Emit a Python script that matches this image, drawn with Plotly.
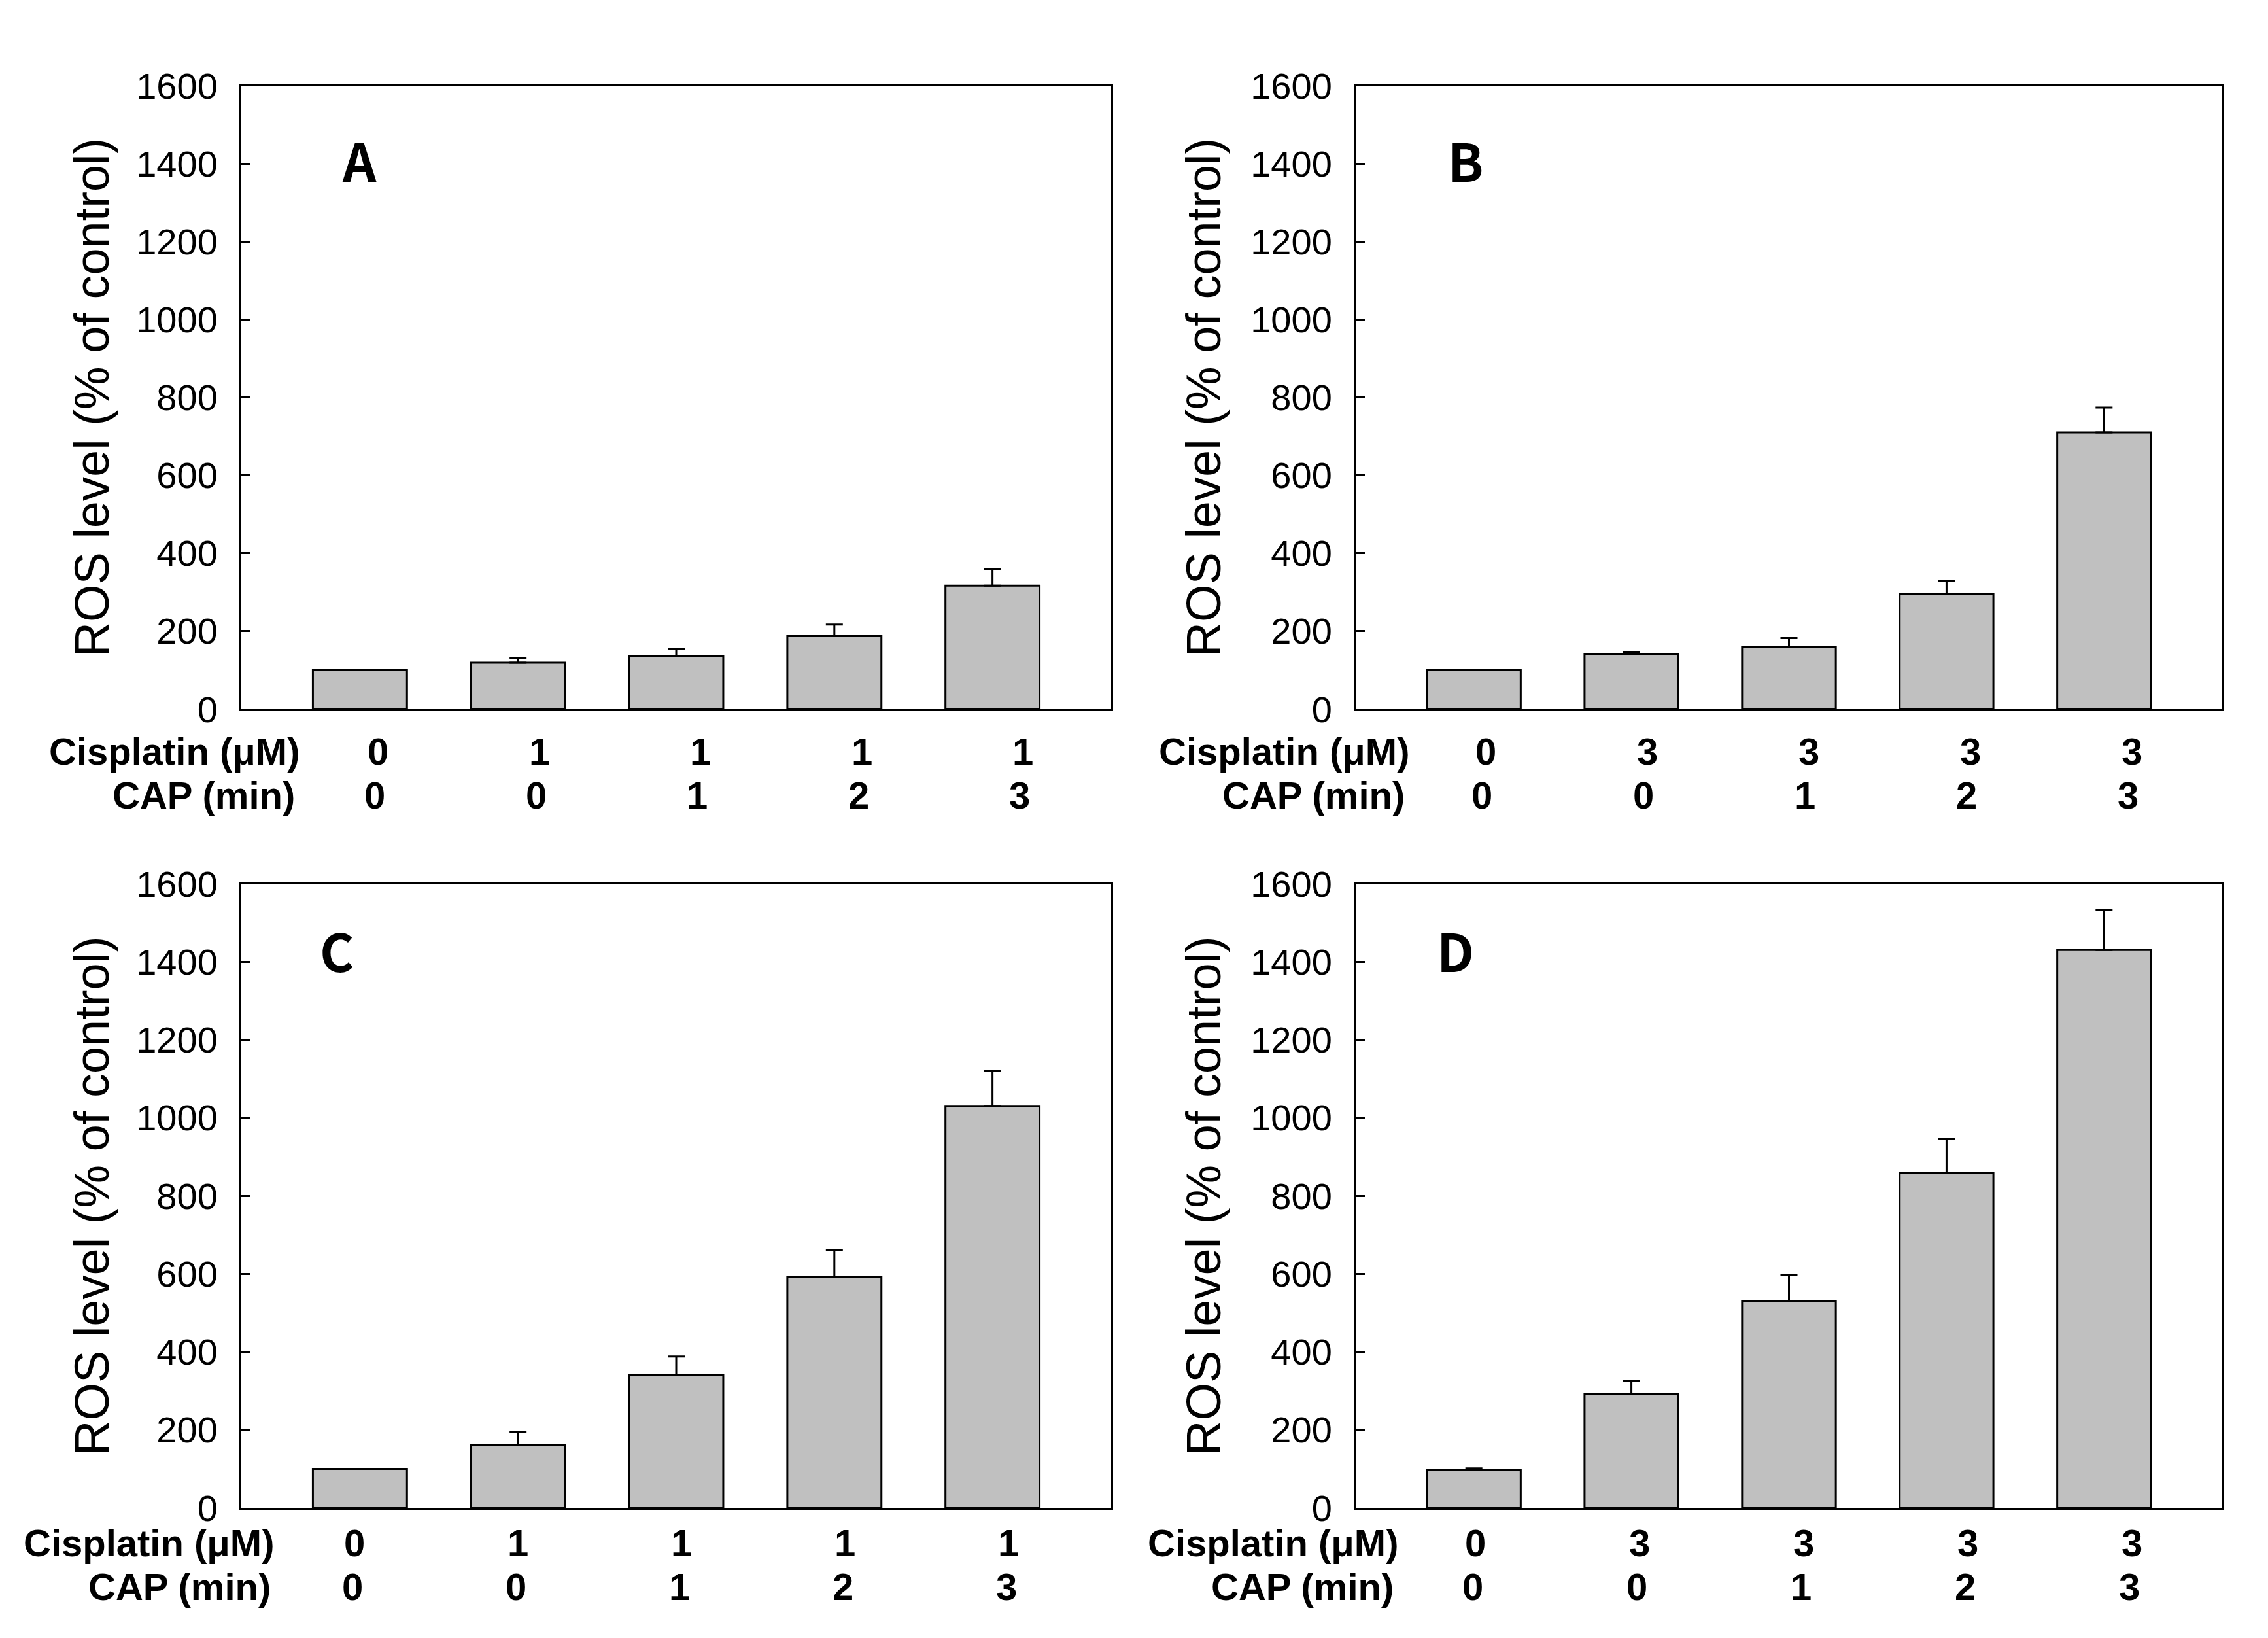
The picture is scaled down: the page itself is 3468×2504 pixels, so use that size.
import plotly.graph_objects as go

# ---------------- data ----------------
panel_letters = ["A", "B", "C", "D"]
cisplatin_A = ["0", "1", "1", "1", "1"]
cisplatin_B = ["0", "3", "3", "3", "3"]
cisplatin_C = ["0", "1", "1", "1", "1"]
cisplatin_D = ["0", "3", "3", "3", "3"]
cap_min = ["0", "0", "1", "2", "3"]

ros_A = [100, 119, 136, 187, 317]
err_A = [0, 12, 18, 30, 43]
ros_B = [100, 142, 159, 295, 710]
err_B = [0, 5, 23, 35, 64]
ros_C = [100, 160, 340, 592, 1030]
err_C = [0, 35, 48, 68, 91]
ros_D = [97, 291, 529, 859, 1430]
err_D = [4, 34, 68, 87, 102]

y_ticks = [0, 200, 400, 600, 800, 1000, 1200, 1400, 1600]
y_title = "ROS level (% of control)"
row_label_cis = "Cisplatin (\u03bcM)"
row_label_cap = "CAP (min)"

# ---------------- layout (pixel geometry) ----------------
W, H = 3468, 2504
def px(x):
    return x / W
def py(y):
    return 1 - y / H

panels = [
    dict(letter=panel_letters[0], cis=cisplatin_A, ros=ros_A, err=err_A,
         x0=369, x1=1699, y0=131, y1=1084, tx=140, lx=549, ly=243,
         cis_r=460, cap_r=453, row1=1148, row2=1215, vc=578, vp=573, sp=246.5),
    dict(letter=panel_letters[1], cis=cisplatin_B, ros=ros_B, err=err_B,
         x0=2073, x1=3398, y0=131, y1=1084, tx=1840, lx=2241, ly=243,
         cis_r=2157, cap_r=2150, row1=1148, row2=1215, vc=2272, vp=2266, sp=247),
    dict(letter=panel_letters[2], cis=cisplatin_C, ros=ros_C, err=err_C,
         x0=369, x1=1699, y0=1351, y1=2305, tx=140, lx=515, ly=1451,
         cis_r=421, cap_r=416, row1=2358, row2=2425, vc=542, vp=539, sp=250),
    dict(letter=panel_letters[3], cis=cisplatin_D, ros=ros_D, err=err_D,
         x0=2073, x1=3398, y0=1351, y1=2305, tx=1840, lx=2225, ly=1451,
         cis_r=2140, cap_r=2133, row1=2358, row2=2425, vc=2256, vp=2252, sp=251),
]

FONT = "Liberation Sans, Arial, sans-serif"
fig = go.Figure()
annotations = []
layout_axes = {}

for k, p in enumerate(panels):
    n = "" if k == 0 else str(k + 1)
    cats = [f"{c}|{m}" for c, m in zip(p["cis"], cap_min)]
    fig.add_trace(go.Bar(
        x=cats, y=p["ros"],
        xaxis="x" + n, yaxis="y" + n,
        marker=dict(color="#c0c0c0", line=dict(color="black", width=3)),
        error_y=dict(type="data", symmetric=False, array=p["err"],
                     arrayminus=[0] * len(p["err"]),
                     color="black", thickness=3, width=13),
        showlegend=False,
    ))
    layout_axes["xaxis" + n] = dict(
        domain=[px(p["x0"]), px(p["x1"])], anchor="y" + n,
        type="category", range=[-0.75, 4.75],
        showticklabels=False, ticks="", showgrid=False, zeroline=False,
        showline=True, mirror=True, linecolor="black", linewidth=3,
        automargin=False,
    )
    layout_axes["yaxis" + n] = dict(
        domain=[py(p["y1"]), py(p["y0"])], anchor="x" + n,
        range=[0, 1600], tickvals=y_ticks, ticks="inside", ticklen=14,
        tickwidth=3, tickcolor="black", showgrid=False, zeroline=False,
        showline=True, mirror=True, linecolor="black", linewidth=3,
        tickfont=dict(family=FONT, size=56, color="black"),
        ticklabelstandoff=22, automargin=False,
    )
    yc = (p["y0"] + p["y1"]) / 2
    annotations.append(dict(
        text=y_title, xref="paper", yref="paper", x=px(p["tx"]), y=py(yc),
        textangle=-90, showarrow=False, xanchor="center", yanchor="middle",
        font=dict(family=FONT, size=74, color="black"),
    ))
    annotations.append(dict(
        text="<b>" + p["letter"] + "</b>", xref="paper", yref="paper",
        x=px(p["lx"]), y=py(p["ly"]), showarrow=False,
        xanchor="center", yanchor="middle",
        font=dict(family="Noto Sans CJK KR, Noto Sans, sans-serif", size=80, color="black"),
    ))
    for label, right, row in ((row_label_cis, p["cis_r"], p["row1"]),
                              (row_label_cap, p["cap_r"], p["row2"])):
        annotations.append(dict(
            text="<b>" + label + "</b>", xref="paper", yref="paper",
            x=px(right), y=py(row), showarrow=False,
            xanchor="right", yanchor="middle",
            font=dict(family=FONT, size=58, color="black"),
        ))
    for i in range(len(cats)):
        for vals, start, row in ((p["cis"], p["vc"], p["row1"]),
                                 (cap_min, p["vp"], p["row2"])):
            annotations.append(dict(
                text="<b>" + vals[i] + "</b>", xref="paper", yref="paper",
                x=px(start + i * p["sp"]), y=py(row), showarrow=False,
                xanchor="center", yanchor="middle",
                font=dict(family=FONT, size=58, color="black"),
            ))

fig.update_layout(
    width=W, height=H,
    margin=dict(l=0, r=0, t=0, b=0, pad=0, autoexpand=False),
    paper_bgcolor="white", plot_bgcolor="white",
    bargap=0.405, annotations=annotations, **layout_axes,
)

fig.write_html("out.html", config={"displayModeBar": False},
               post_script="document.body.style.margin='0';document.body.style.overflow='hidden';")
